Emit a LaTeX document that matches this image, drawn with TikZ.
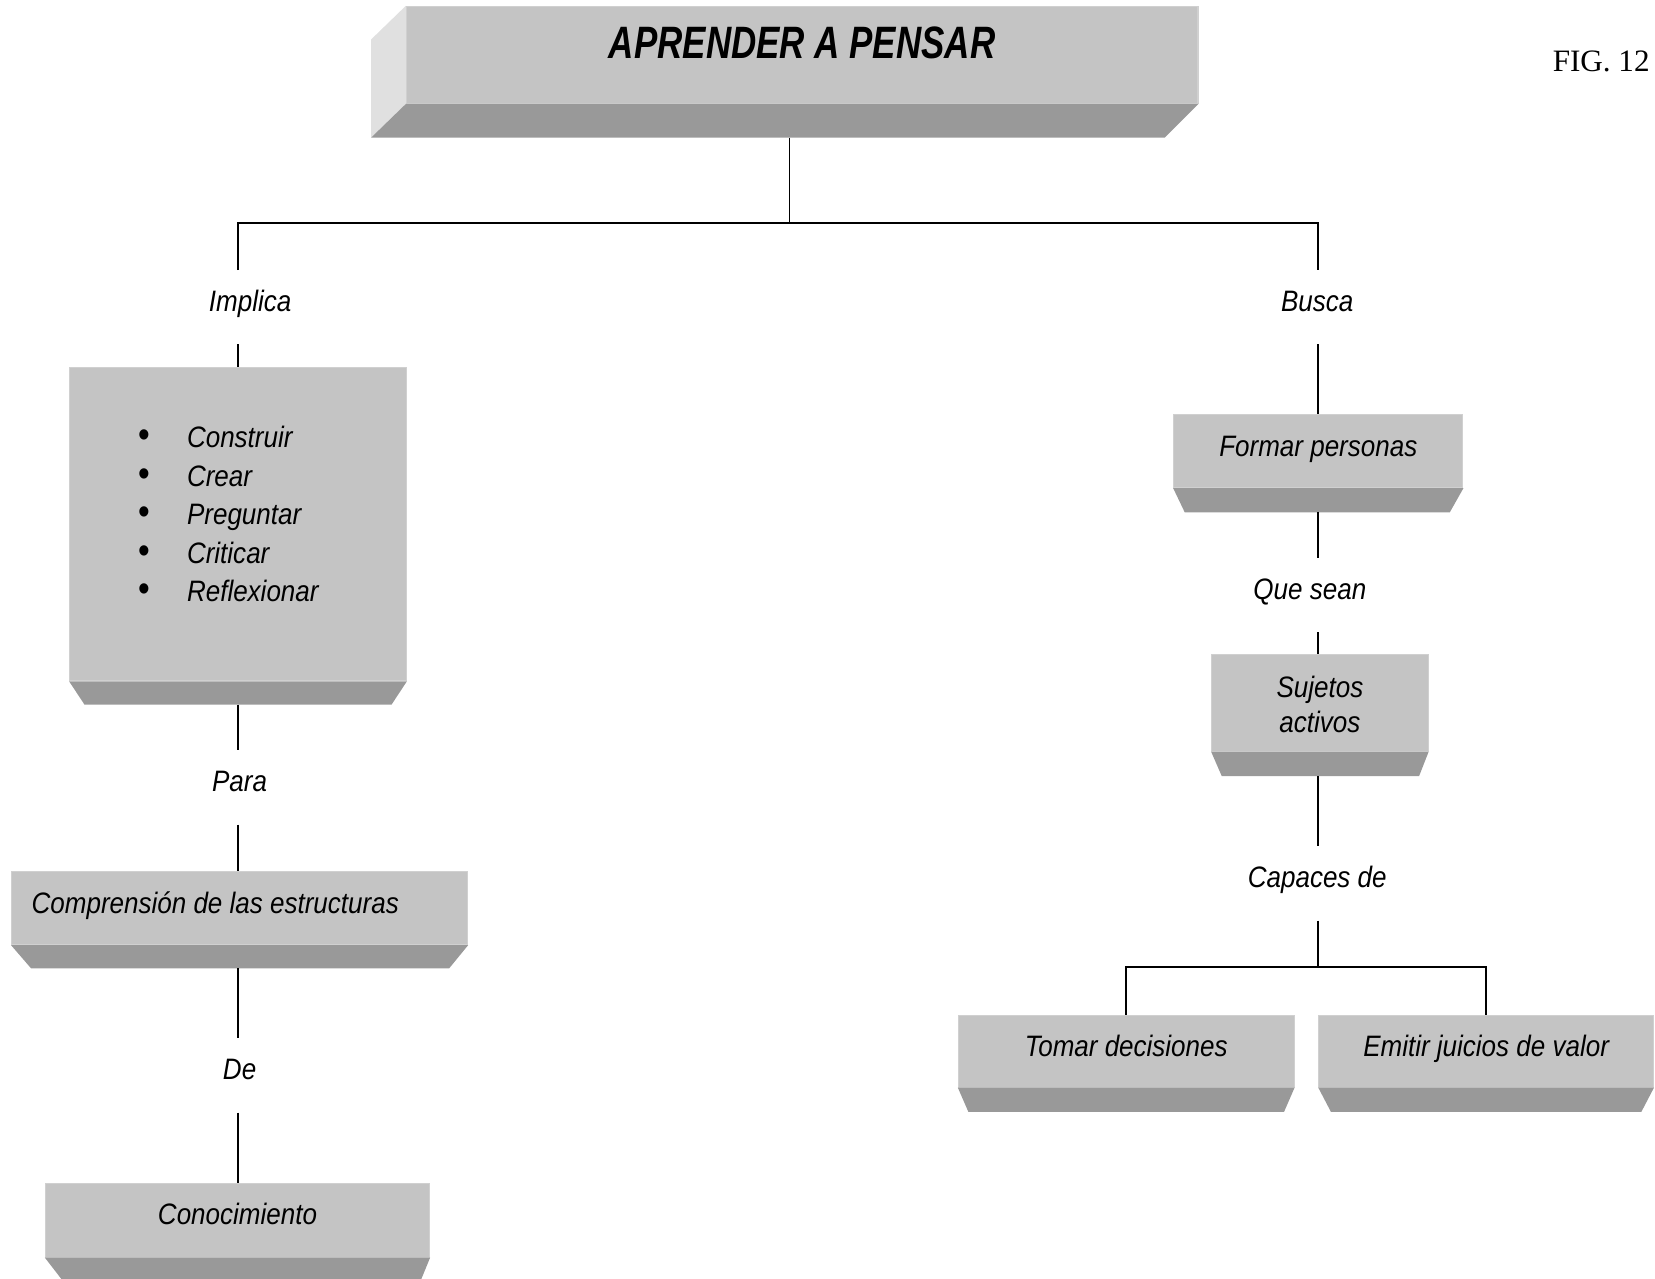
\documentclass[tikz,border=0pt]{standalone}
\usepackage{fontspec}
\setmainfont[FakeStretch=0.88]{Liberation Sans}
\newfontfamily\titlefont[FakeStretch=0.77]{Liberation Sans}
\newfontfamily\figfont{Liberation Serif}
\definecolor{frontc}{RGB}{196,196,196}
\definecolor{bevc}{RGB}{153,153,153}
\definecolor{sidec}{RGB}{224,224,224}
\definecolor{edgec}{RGB}{208,208,208}
\tikzset{
  box/.style={fill=frontc, draw=edgec, line width=1pt, inner sep=0pt,
    font=\fontsize{28}{33}\selectfont\itshape, text height=20pt, text depth=10pt},
  lab/.style={inner sep=0pt, anchor=base, font=\fontsize{28}{33}\selectfont\itshape,
    text height=39pt, text depth=31pt},
  item/.style={inner sep=0pt, anchor=base west, font=\fontsize{28}{33}\selectfont\itshape},
  conn/.style={draw=black, line width=1.7pt, line join=miter}
}
\newcommand\bevelbox[4]{%
  \fill[bevc] (#1.south west) -- (#1.south east)
    -- ([xshift=-#3pt,yshift=-#4pt]#1.south east)
    -- ([xshift=#2pt,yshift=-#4pt]#1.south west) -- cycle;
  \coordinate (#1-b) at ([yshift=-#4pt]#1.south);
}
\begin{document}
\begin{tikzpicture}[x=1pt,y=-1pt]
\useasboundingbox (0,0) rectangle (1568,1211);
\clip (0,0) rectangle (1568,1211);

% title block
\node[box, minimum width=750pt, minimum height=92pt, text height=31pt, text depth=24pt,
      font=\titlefont\fontsize{43}{46}\selectfont\bfseries\itshape] (title) at (760,52) {APRENDER A PENSAR};
\fill[sidec] ([xshift=-33pt,yshift=-32pt]title.north west) -- (title.north west)
   -- (title.south west) -- ([xshift=-33pt,yshift=-32pt]title.south west) -- cycle;
\fill[bevc] (title.south west) -- (title.south east)
   -- ([xshift=-32pt,yshift=-32pt]title.south east)
   -- ([xshift=-33pt,yshift=-32pt]title.south west) -- cycle;
\coordinate (title-b) at ([xshift=-12pt,yshift=-32pt]title.south);

\node[font=\figfont\fontsize{29.5}{30}\selectfont, inner sep=0pt] (fig) at (1517,58) {FIG. 12};

% left chain
\node[box, minimum width=319pt, minimum height=297pt] (bul) at (225.5,496.5) {};
\bevelbox{bul}{14.5}{14.5}{22}
\foreach \w [count=\i] in {Construir,Crear,Preguntar,Criticar,Reflexionar}{
  \node[item] (it\i) at (131,{424+36.5*(\i-1)})
    {\makebox[46pt][l]{\upshape\fontsize{36}{36}\selectfont •}\w};
}

\node[box, minimum width=432pt, minimum height=69pt] (comp) at (227,860.5)
  {\makebox[394pt][l]{Comprensión de las estructuras}};
\bevelbox{comp}{19}{18}{22}

\node[box, minimum width=364pt, minimum height=70pt, text depth=12pt] (con) at (225,1156) {Conocimiento};
\bevelbox{con}{17}{9}{22}

% right chain
\node[box, minimum width=274pt, minimum height=69pt] (form) at (1249,427.5) {Formar personas};
\bevelbox{form}{11}{13}{23}

\node[box, minimum width=205pt, minimum height=91.5pt, align=center, text height=56pt, text depth=0pt] (suj) at (1250.5,666) {Sujetos\\activos};
\bevelbox{suj}{10}{9}{23}

\node[box, minimum width=318pt, minimum height=68pt] (tom) at (1067,996) {Tomar decisiones};
\bevelbox{tom}{10}{10}{23}
\node[box, minimum width=317pt, minimum height=68pt] (emi) at (1408,996) {Emitir juicios de valor};
\bevelbox{emi}{12}{12}{23}

% labels
\node[lab] (impl) at (237,295) {Implica};
\node[lab] (busca) at (1248,295) {Busca};
\node[lab] (para) at (227,750) {Para};
\node[lab] (de) at (227,1023) {De};
\node[lab] (que) at (1241,568) {Que sean};
\node[lab] (cap) at (1248,841) {Capaces de};

% connectors
\coordinate (hj) at (748,211);
\coordinate (rj) at (1249,916);
\draw[conn] (title-b) -- (hj);
\draw[conn] (bul.north |- impl.north) -- (hj -| bul.north) -- (hj -| form.north) -- (form.north |- busca.north);
\draw[conn] (bul.north |- impl.south) -- (bul.north);
\draw[conn] (form.north |- busca.south) -- (form.north);
\draw[conn] (bul-b) -- (bul-b |- para.north);
\draw[conn] (bul-b |- para.south) -- (bul-b |- comp.north);
\draw[conn] (bul-b |- comp-b) -- (bul-b |- de.north);
\draw[conn] (bul-b |- de.south) -- (bul-b |- con.north);
\draw[conn] (form-b) -- (form-b |- que.north);
\draw[conn] (form-b |- que.south) -- (form-b |- suj.north);
\draw[conn] (form-b |- suj-b) -- (form-b |- cap.north);
\draw[conn] (form-b |- cap.south) -- (rj);
\draw[conn] (tom.north) -- (rj -| tom.north) -- (rj -| emi.north) -- (emi.north);
\end{tikzpicture}
\end{document}
